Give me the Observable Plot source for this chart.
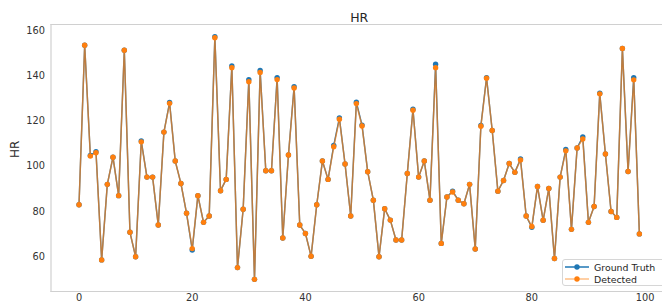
<!DOCTYPE html>
<html>
<head>
<meta charset="utf-8">
<script src="https://cdn.jsdelivr.net/npm/d3@7"></script>
<script src="https://cdn.jsdelivr.net/npm/@observablehq/plot@0.6"></script>
<style>
  html, body { margin: 0; padding: 0; background: #fff; overflow: hidden; }
  #wrap { position: relative; width: 662px; height: 305px; overflow: hidden; font-family: "DejaVu Sans", sans-serif; }
  #legend { position: absolute; left: 562px; top: 259px; width: 110px; height: 27px; border: 1px solid #d6d6d6; border-radius: 3px; background: rgba(255,255,255,0.85); box-sizing: border-box; font-size: 9.4px; color: #262626; }
  .row { position: absolute; left: 2px; display: flex; align-items: center; height: 12px; }
  .row span { margin-left: 5px; white-space: nowrap; }
</style>
</head>
<body>
<div id="wrap">
  <div id="chart"></div>
  <div id="legend"></div>
</div>
<script>
const title = "HR";
const yLabel = "HR";
const seriesNames = ["Ground Truth", "Detected"];
const seriesColors = ["#1f77b4", "#ff7f0e"];
const xTicks = [0, 20, 40, 60, 80, 100];
const yTicks = [60, 80, 100, 120, 140, 160];

const groundTruth = [
  83, 153.5, 104.8, 106.4, 58.6, 92, 104, 87, 151.3, 70.8,
  60, 111.2, 95.2, 95.2, 74, 115.1, 128.2, 102.3, 92.4, 79.2,
  63, 87, 75.2, 78, 157.3, 89.2, 94.2, 144.3, 55.2, 81,
  138.3, 50, 142.3, 98, 98, 139.2, 68.3, 105, 135.2, 74,
  70.3, 60.2, 83, 102.3, 94.2, 109.2, 121.4, 101, 78, 128.3,
  118.2, 97.6, 85, 60, 81.2, 76.2, 67.4, 67.4, 96.8, 125.2,
  95.2, 102.3, 85, 145.1, 65.9, 86.4, 89, 85, 83.4, 92,
  63.4, 118, 139.2, 115.8, 89, 93.7, 101.2, 97.3, 103.2, 78,
  73, 91.1, 76.1, 90.2, 59.2, 95.2, 107.4, 72.1, 108.1, 113,
  75.2, 82.2, 132.3, 105.4, 80, 77.4, 152.1, 97.7, 139.2, 70.1
];
const detected = [
  83, 153.5, 104.5, 106, 58.6, 92, 104, 87, 151.3, 70.8,
  60, 110.8, 95.2, 95.2, 74, 115.1, 127.8, 102.3, 92.4, 79.2,
  63.6, 87, 75.2, 78, 156.8, 89.2, 94.2, 143.6, 55.2, 81,
  137.4, 50, 141.5, 98, 98, 138.3, 68.3, 105, 134.6, 74,
  70.3, 60.2, 83, 102.3, 94.2, 108.6, 120.8, 101, 78, 127.7,
  117.8, 97.6, 85, 60, 81.2, 76.2, 67.4, 67.4, 96.8, 124.8,
  95.2, 102.3, 85, 143.6, 65.9, 86.4, 88.6, 85, 83.4, 92,
  63.4, 117.7, 138.9, 115.8, 89, 93.7, 101.2, 97.3, 102.8, 78,
  73.4, 91.1, 76.1, 90.2, 59.2, 95.2, 106.8, 72.1, 108.1, 112.1,
  75.2, 82.2, 132, 105.4, 80, 77.4, 152.1, 97.7, 138.2, 70.1
];

const gt = groundTruth.map((v, i) => ({i, v}));
const det = detected.map((v, i) => ({i, v}));

// matplotlib-like 5% margins
const n = groundTruth.length - 1;
const all = groundTruth.concat(detected);
const yMin = d3.min(all), yMax = d3.max(all);
const yPad = (yMax - yMin) * 0.05;
const xPad = n * 0.05;

const W = 662, H = 305;
const mL = 50.5, mT = 24, mB = 14, mR = 0;
// axes extends beyond the picture on the right: compute visible x max
const axRight = 666.9;
const xMaxFull = n + xPad;
const xMaxVisible = -xPad + (xMaxFull + xPad) * (W - mL) / (axRight - mL);
const detOpacity = 0.7;

const plot = Plot.plot({
  width: W,
  height: H,
  marginLeft: mL,
  marginTop: mT,
  marginBottom: mB,
  marginRight: mR,
  style: {fontFamily: "DejaVu Sans, sans-serif", background: "#fff", overflow: "visible"},
  x: {domain: [-xPad, xMaxVisible], ticks: xTicks},
  y: {domain: [yMin - yPad, yMax + yPad], ticks: yTicks},
  marks: [
    Plot.frame({anchor: "left", stroke: "#d0d0d0", strokeWidth: 1.2}),
    Plot.frame({anchor: "bottom", stroke: "#d0d0d0", strokeWidth: 1.2}),
    Plot.frame({anchor: "top", stroke: "#d0d0d0", strokeWidth: 1.2}),
    Plot.axisX({ticks: xTicks, tickSize: 0, tickPadding: 3, fontSize: 9.8, color: "#333", label: null}),
    Plot.axisY({ticks: yTicks, tickSize: 0, tickPadding: 6, fontSize: 9.8, color: "#333", label: null}),
    Plot.line(gt, {x: "i", y: "v", stroke: seriesColors[0], strokeWidth: 1.4}),
    Plot.dot(gt, {x: "i", y: "v", fill: seriesColors[0], r: 2.7}),
    Plot.line(det, {x: "i", y: "v", stroke: seriesColors[1], strokeOpacity: detOpacity, strokeWidth: 1.5}),
    Plot.dot(det, {x: "i", y: "v", fill: seriesColors[1], r: 2.7}),
    Plot.text([title], {frameAnchor: "top", dy: -11, dx: (axRight - W) / 2, fontSize: 12.5, fill: "#262626"}),
    Plot.text([yLabel], {frameAnchor: "left", dx: -36, rotate: -90, fontSize: 12, fill: "#262626"})
  ]
});
document.getElementById("chart").appendChild(plot);

// legend
const legend = document.getElementById("legend");
seriesNames.forEach((name, k) => {
  const row = document.createElement("div");
  row.className = "row";
  row.style.top = (1 + k * 12.3) + "px";
  const op = k === 1 ? 0.5 : 1;
  row.innerHTML = `<svg width="24" height="8"><line x1="0" y1="4" x2="24" y2="4" stroke="${seriesColors[k]}" stroke-opacity="${op}" stroke-width="1.5"/><circle cx="12" cy="4" r="2.7" fill="${seriesColors[k]}"/></svg><span>${name}</span>`;
  legend.appendChild(row);
});
</script>
</body>
</html>
